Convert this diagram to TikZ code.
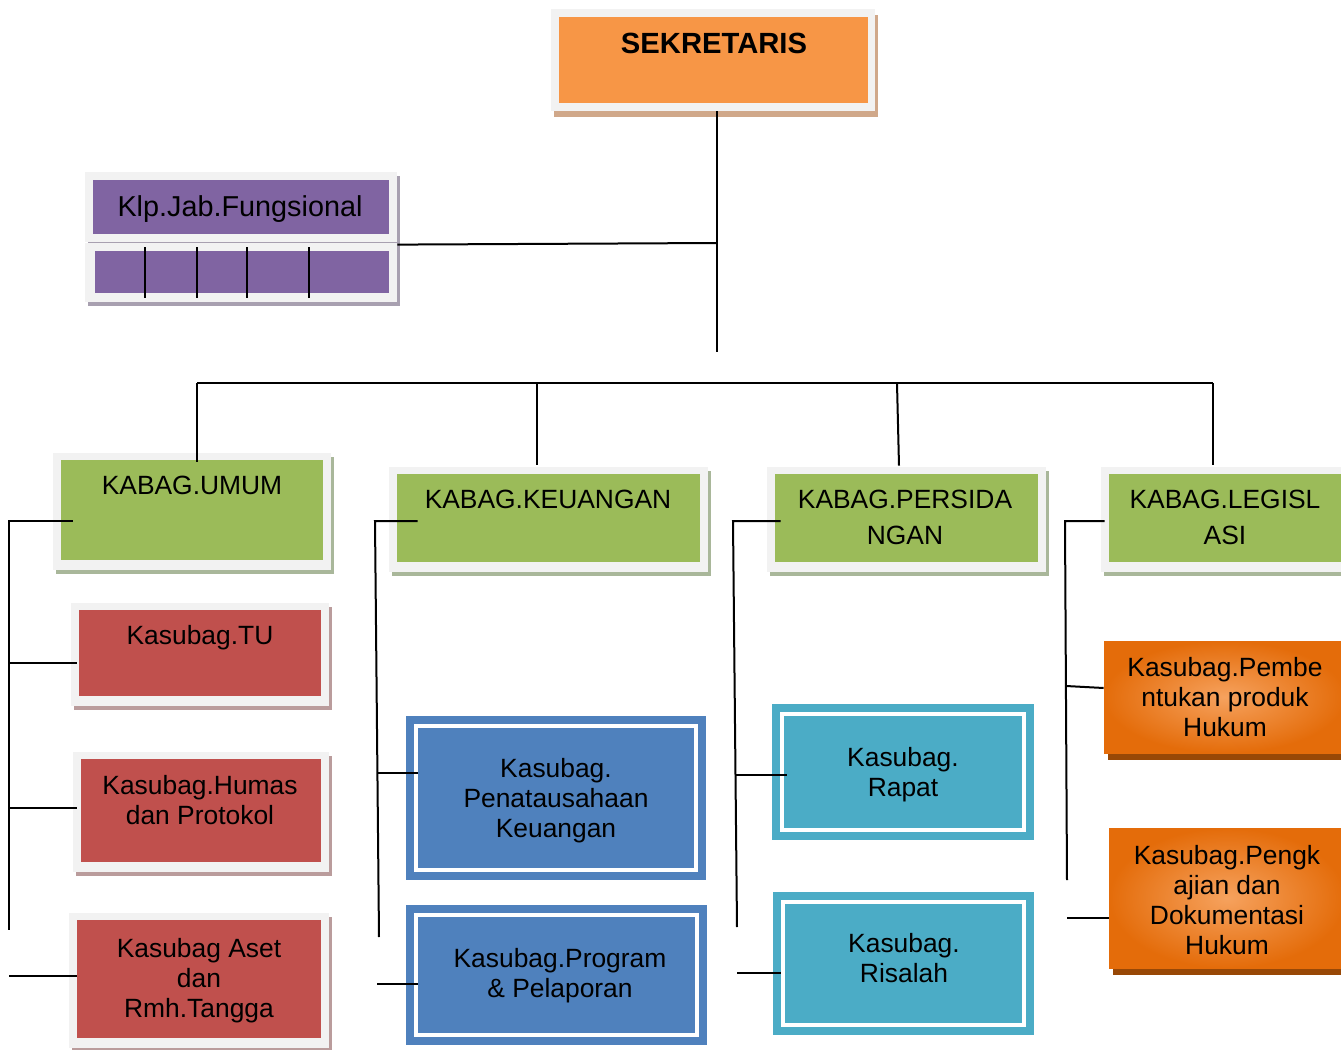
\documentclass[tikz,border=0pt]{standalone}
\usepackage{fontspec}
\setmainfont{Liberation Sans}
\usetikzlibrary{fit,calc}
\definecolor{framegray}{HTML}{F2F2F2}
\definecolor{sekor}{HTML}{F79646}
\definecolor{sekshadow}{HTML}{D0A88A}
\definecolor{grn}{HTML}{9BBB59}
\definecolor{grnshadow}{HTML}{A9B79A}
\definecolor{redb}{HTML}{C0504D}
\definecolor{redshadow}{HTML}{BA9C9C}
\definecolor{purp}{HTML}{8064A2}
\definecolor{purpshadow}{HTML}{A8A0B0}
\definecolor{blu}{HTML}{4F81BD}
\definecolor{teal2}{HTML}{4BACC6}
\definecolor{ordark}{HTML}{E46C0A}
\definecolor{orlight}{HTML}{F6A25E}
\definecolor{orshadow}{HTML}{984806}
\tikzset{
  lbl/.style={anchor=north, inner sep=0pt, align=center, font=\fontsize{13.2}{15}\selectfont},
  lblg/.style={lbl, font=\fontsize{13.2}{18}\selectfont},
  conn/.style={line width=1pt, black},
}
% name, x1, y1, x2, y2, inner colour, shadow colour
\newcommand\orgbox[7]{%
  \fill[#7] ($(#2,#3)+(3,4)$) rectangle ($(#4,#5)+(3,4)$);
  \node[fill=framegray, inner sep=0pt, fit={(#2,#3) (#4,#5)}] (#1) {};
  \fill[#6] ($(#2,#3)+(8,7)$) rectangle ($(#4,#5)+(-8,-10)$);
}
% name, x1, y1, x2, y2, fill colour
\newcommand\dblbox[6]{%
  \node[fill=#6, inner sep=0pt, fit={(#2,#3) (#4,#5)}] (#1) {};
  \draw[white, line width=2pt] ($(#2,#3)+(10,10)$) rectangle ($(#4,#5)+(-10,-10)$);
}
% name, x1, y1, x2, y2
\newcommand\grbox[5]{%
  \fill[orshadow] ($(#2,#3)+(4,7)$) rectangle ($(#4,#5)+(4,7)$);
  \node[inner sep=0pt, fit={(#2,#3) (#4,#5)}] (#1) {};
  \shade[inner color=orlight, outer color=ordark] (#2,#3) rectangle (#4,#5);
}
\begin{document}
\begin{tikzpicture}[x=0.5pt,y=-0.5pt]
\useasboundingbox (0,0) rectangle (1341,1050);
\clip (0,0) rectangle (1341,1050);

% SEKRETARIS
\fill[sekshadow] (554,15) rectangle (878,117);
\node[fill=framegray, inner sep=0pt, fit={(551,9) (875,111)}] (sek) {};
\fill[sekor] (559,17) rectangle (868,103);
\node[lbl, font=\bfseries\fontsize{14.6}{17}\selectfont] (tsek) at (714,33) {SEKRETARIS};

% Klp.Jab.Fungsional
\fill[purpshadow] (88,176) rectangle (400,306);
\node[fill=framegray, inner sep=0pt, fit={(85,172) (397,242)}] (klp) {};
\node[fill=framegray, inner sep=0pt, fit={(85,243) (397,302)}] (klpb) {};
\fill[purp] (93,180) rectangle (389,234);
\fill[purp] (95,251) rectangle (389,293);
\foreach \xx in {145,197,247,309} \draw[conn] (\xx,247) -- (\xx,298);
\node[lbl, font=\fontsize{14.4}{17}\selectfont] (tklp) at (240,195) {Klp.Jab.Fungsional};

% KABAG boxes
\orgbox{umum}{53}{453}{331}{570}{grn}{grnshadow}
\node[lbl] (tumum) at (192,476) {KABAG.UMUM};
\orgbox{keu}{389}{467}{708}{572}{grn}{grnshadow}
\node[lbl] (tkeu) at (548,490) {KABAG.KEUANGAN};
\orgbox{pers}{767}{467}{1046}{572}{grn}{grnshadow}
\node[lblg] (tpers) at (905,490) {KABAG.PERSIDA\\NGAN};
\orgbox{leg}{1101}{467}{1360}{572}{grn}{grnshadow}
\node[lblg] (tleg) at (1225,490) {KABAG.LEGISL\\ASI};

% Kasubag (red)
\orgbox{tu}{71}{603}{329}{706}{redb}{redshadow}
\node[lbl] (ttu) at (200,625) {Kasubag.TU};
\orgbox{humas}{73}{752}{329}{872}{redb}{redshadow}
\node[lbl] (thumas) at (200,775) {Kasubag.Humas\\dan Protokol};
\orgbox{aset}{69}{913}{329}{1048}{redb}{redshadow}
\node[lbl] (taset) at (199,938) {Kasubag Aset\\dan\\Rmh.Tangga};

% Kasubag (blue)
\dblbox{pen}{406}{716}{706}{880}{blu}
\node[lbl] (tpen) at (556,758) {Kasubag.\\Penatausahaan\\Keuangan};
\dblbox{prog}{406}{905}{707}{1045}{blu}
\node[lbl] (tprog) at (560,948) {Kasubag.Program\\\& Pelaporan};

% Kasubag (teal)
\dblbox{rap}{772}{704}{1034}{840}{teal2}
\node[lbl] (trap) at (903,747) {Kasubag.\\Rapat};
\dblbox{ris}{773}{892}{1034}{1035}{teal2}
\node[lbl] (tris) at (904,933) {Kasubag.\\Risalah};

% Kasubag (orange)
\grbox{pemb}{1104}{641}{1345}{753}
\node[lbl] (tpemb) at (1225,657) {Kasubag.Pembe\\ntukan produk\\Hukum};
\grbox{peng}{1109}{828}{1345}{968}
\node[lbl] (tpeng) at (1227,845) {Kasubag.Pengk\\ajian dan\\Dokumentasi\\Hukum};

% connectors
\coordinate (trunk) at (717,352);
\coordinate (kj) at (717,243);
\coordinate (bl) at (197,383);
\coordinate (br) at (1213,383);
\coordinate (bk) at (537,383);
\coordinate (bp) at (897,383);
\draw[conn] (sek.south -| trunk) -- (trunk);
\draw[conn] ($(klpb.north east)+(0,2)$) -- (kj);
\draw[conn] (bl) -- (br);
\draw[conn] (bl) -- ($(umum.north -| bl)+(0,9)$);
\draw[conn] (bk) -- ($(keu.north -| bk)+(0,-2)$);
\draw[conn] (bp) -- ($(pers.north -| bp)+(2,-1)$);
\draw[conn] (br) -- ($(leg.north -| br)+(0,-2)$);

% UMUM branch
\coordinate (u1) at (9,521);
\coordinate (u2) at (9,930);
\draw[conn] ($(umum.west |- u1)+(20,0)$) -- (u1) -- (u2);
\draw[conn] (9,663) -- ($(tu.west |- 0,663)+(6,0)$);
\draw[conn] (9,808) -- ($(humas.west |- 0,808)+(4,0)$);
\draw[conn] (9,976) -- ($(aset.west |- 0,976)+(8,0)$);

% KEUANGAN branch
\coordinate (k1) at (375,521);
\coordinate (k2) at (379,937);
\draw[conn] ($(keu.west |- k1)+(29,0)$) -- (k1) -- (k2);
\draw[conn] (377,773) -- ($(pen.west |- 0,773)+(12,0)$);
\draw[conn] (377,984) -- ($(prog.west |- 0,984)+(12,0)$);

% PERSIDANGAN branch
\coordinate (p1) at (733,521);
\coordinate (p2) at (737,927);
\draw[conn] ($(pers.west |- p1)+(14,0)$) -- (p1) -- (p2);
\draw[conn] (735,775) -- ($(rap.west |- 0,775)+(15,0)$);
\draw[conn] (737,973) -- ($(ris.west |- 0,973)+(8,0)$);

% LEGISLASI branch
\coordinate (l1) at (1065,521);
\coordinate (l2) at (1067,880);
\draw[conn] ($(leg.west |- l1)+(4,0)$) -- (l1) -- (l2);
\draw[conn] (1066,686) -- (pemb.west |- 0,688);
\draw[conn] (1067,918) -- (peng.west |- 0,918);
\end{tikzpicture}
\end{document}
